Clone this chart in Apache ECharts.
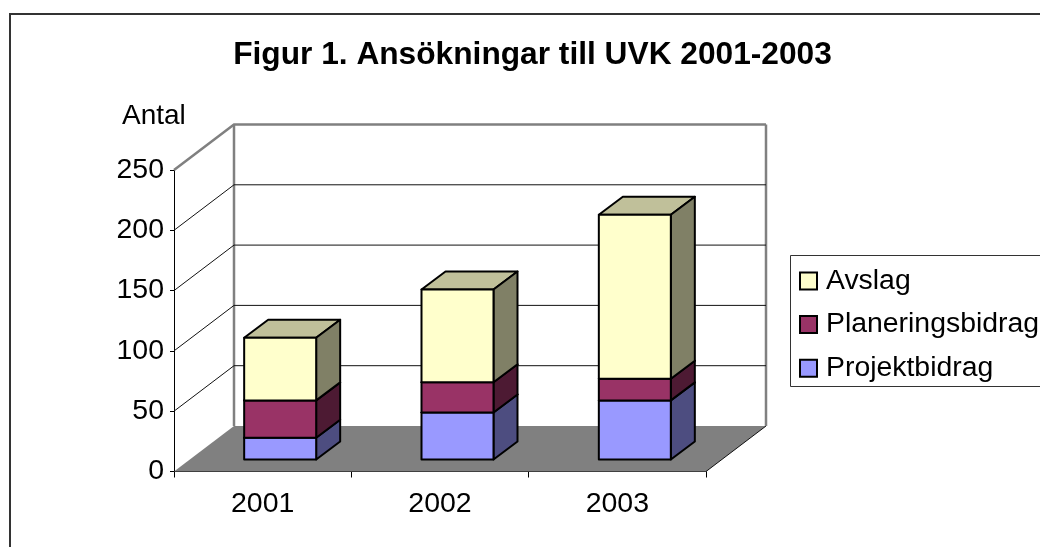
<!DOCTYPE html>
<html>
<head>
<meta charset="utf-8">
<style>html,body{margin:0;padding:0;background:#fff}#c{width:1040px;height:547px}</style>
<script src="https://cdn.jsdelivr.net/npm/echarts@6/dist/echarts.min.js"></script>
</head>
<body>
<div id="c"></div>
<script>
const categories = ['2001', '2002', '2003'];
const yTicks = [0, 50, 100, 150, 200, 250];
const projektbidrag = [18, 39, 49];
const planeringsbidrag = [31, 25, 18];
const avslag = [52, 77, 136];

const FONT = '"Liberation Sans", Arial, sans-serif';
const WALL = [60, -45.5];
const PLANE = [17.5, -12];
const DEPTH = [24, -18];
const BAR_RATIO = 0.406;

function renderWalls(params, api) {
  const v = api.value(1);
  const r = params.coordSys;
  const y = api.coord([0, v])[1];
  const x0 = r.x, x1 = r.x + r.width;
  const bx0 = x0 + WALL[0], bx1 = x1 + WALL[0], by = y + WALL[1];
  const children = [];
  if (v === yTicks[0]) {
    children.push({ type: 'polygon', shape: { points: [[x0, y], [x1, y], [bx1, by], [bx0, by]] },
      style: { fill: '#808080', stroke: null } });
    children.push({ type: 'line', shape: { x1: x1, y1: y, x2: bx1, y2: by },
      style: { stroke: '#111', lineWidth: 1 } });
    const topY = api.coord([0, yTicks[yTicks.length - 1]])[1] + WALL[1];
    children.push({ type: 'line', shape: { x1: bx0, y1: by, x2: bx0, y2: topY },
      style: { stroke: '#808080', lineWidth: 2.5 } });
    children.push({ type: 'line', shape: { x1: bx1, y1: by, x2: bx1, y2: topY },
      style: { stroke: '#808080', lineWidth: 2.5 } });
  } else {
    const top = v === yTicks[yTicks.length - 1];
    children.push({ type: 'polyline', shape: { points: [[x0, y], [bx0, by], [bx1, by]] },
      style: { fill: null, stroke: top ? '#808080' : '#111', lineWidth: top ? 2.5 : 1 } });
  }
  return { type: 'group', children: children };
}

function renderBar(colors) {
  return function (params, api) {
    const cat = api.value(0);
    const base = api.coord([cat, api.value(1)]);
    const topP = api.coord([cat, api.value(2)]);
    const w = api.size([1, 0])[0] * BAR_RATIO;
    const l = base[0] - w / 2 + PLANE[0], rr = l + w;
    const yb = base[1] + PLANE[1], yt = topP[1] + PLANE[1];
    const line = { stroke: '#000', lineWidth: 2, lineJoin: 'round' };
    return { type: 'group', children: [
      { type: 'polygon', shape: { points: [[l, yt], [rr, yt], [rr + DEPTH[0], yt + DEPTH[1]], [l + DEPTH[0], yt + DEPTH[1]]] },
        style: Object.assign({ fill: colors.top }, line) },
      { type: 'polygon', shape: { points: [[rr, yt], [rr, yb], [rr + DEPTH[0], yb + DEPTH[1]], [rr + DEPTH[0], yt + DEPTH[1]]] },
        style: Object.assign({ fill: colors.side }, line) },
      { type: 'polygon', shape: { points: [[l, yt], [rr, yt], [rr, yb], [l, yb]] },
        style: Object.assign({ fill: colors.front }, line) }
    ] };
  };
}

const layers = [
  { name: 'Projektbidrag', values: projektbidrag, colors: { front: '#9999FF', side: '#4D4D80', top: '#B8B8E0' } },
  { name: 'Planeringsbidrag', values: planeringsbidrag, colors: { front: '#993366', side: '#4D1A33', top: '#C08099' } },
  { name: 'Avslag', values: avslag, colors: { front: '#FFFFCC', side: '#808066', top: '#C0C09A' } }
];
const running = categories.map(() => 0);
const barSeries = layers.map(layer => {
  const data = categories.map((c, i) => {
    const row = [c, running[i], running[i] + layer.values[i]];
    running[i] += layer.values[i];
    return row;
  });
  return {
    type: 'custom', name: layer.name, coordinateSystem: 'cartesian2d',
    renderItem: renderBar(layer.colors), data: data,
    encode: { x: 0, y: [1, 2] }, clip: false, z: 5,
    itemStyle: { color: layer.colors.front, borderColor: '#000', borderWidth: 2 }
  };
});

const chart = echarts.init(document.getElementById('c'), null, { renderer: 'canvas' });
chart.setOption({
  animation: false,
  backgroundColor: '#fff',
  title: [
    { text: 'Figur 1. Ansökningar till UVK 2001-2003', left: 527.5, top: 34, textAlign: 'center',
      textStyle: { fontFamily: FONT, fontSize: 31.7, fontWeight: 'bold', color: '#000' } },
    { text: 'Antal', left: 117, top: 97,
      textStyle: { fontFamily: FONT, fontSize: 28, fontWeight: 'normal', color: '#000' } }
  ],
  graphic: [
    { type: 'rect', z: -1, silent: true, shape: { x: 10, y: 14, width: 1100, height: 600 },
      style: { fill: 'none', stroke: '#333', lineWidth: 2 } },
    { type: 'rect', z: -1, silent: true, shape: { x: 790.5, y: 255.5, width: 300, height: 131 },
      style: { fill: '#fff', stroke: '#333', lineWidth: 1 } }
  ],
  legend: {
    orient: 'vertical', left: 799, top: 267, padding: 0, itemWidth: 17, itemHeight: 17, itemGap: 15.6,
    icon: 'rect', data: ['Avslag', 'Planeringsbidrag', 'Projektbidrag'],
    textStyle: { fontFamily: FONT, fontSize: 28.4, color: '#000', padding: [0, 0, 0, 4] },
    selectedMode: false
  },
  grid: { left: 174, top: 170, width: 532, height: 301.5 },
  xAxis: {
    type: 'category', data: categories,
    axisLine: { lineStyle: { color: '#000', width: 1 } },
    axisTick: { show: true, length: 6, lineStyle: { color: '#000' } },
    axisLabel: { fontFamily: FONT, fontSize: 28.5, color: '#000', margin: 18 },
    splitLine: { show: false }
  },
  yAxis: {
    type: 'value', min: 0, max: 250, interval: 50,
    axisLine: { show: true, lineStyle: { color: '#000', width: 1 } },
    axisTick: { show: true, length: 4, lineStyle: { color: '#000' } },
    axisLabel: { fontFamily: FONT, fontSize: 28.5, color: '#000', margin: 10, padding: [4, 0, 0, 0] },
    splitLine: { show: false }
  },
  tooltip: { show: false },
  series: [
    { type: 'custom', name: 'walls', coordinateSystem: 'cartesian2d', renderItem: renderWalls,
      data: yTicks.map(t => [categories[0], t]), encode: { x: 0, y: 1 }, clip: false, z: 1, silent: true }
  ].concat(barSeries)
});
</script>
</body>
</html>
